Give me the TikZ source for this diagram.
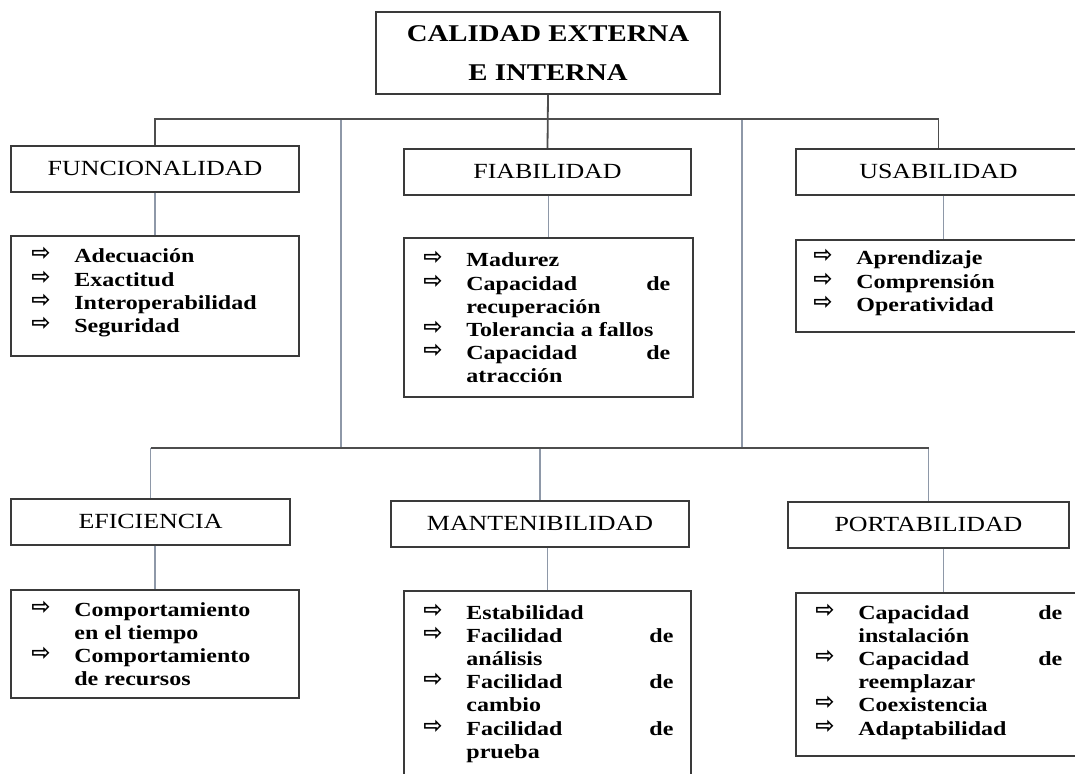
\documentclass[tikz,border=0pt]{standalone}
\usepackage{fontspec}
\setmainfont{Liberation Serif}[FakeStretch=1.2]
\newfontfamily\arrowfont{DejaVu Sans}
\usepackage{array}
\usetikzlibrary{calc}
\definecolor{boxline}{HTML}{3A3A3A}
\definecolor{busline}{HTML}{4D4D4D}
\definecolor{stemline}{HTML}{8E98A8}
\tikzstyle{topbox}=[draw=boxline,line width=1pt,anchor=north west,inner sep=0pt,align=center,font=\fontsize{12}{19.5}\selectfont\bfseries]
\tikzstyle{headbox}=[draw=boxline,line width=1pt,anchor=north west,inner sep=0pt,font=\fontsize{10.8}{13}\selectfont]
\tikzstyle{listbox}=[draw=boxline,line width=1pt,anchor=north west,inner sep=0pt]
\tikzstyle{listtext}=[anchor=base west,inner sep=0pt,font=\fontsize{10}{11.6}\selectfont\bfseries]
\tikzstyle{bus} = [draw=busline,line width=0.9pt]
\tikzstyle{stem} = [draw=stemline,line width=0.9pt]
\newcommand{\ar}{\raisebox{1pt}{\arrowfont\bfseries\fontsize{11.5}{11.5}\selectfont ⇨}}
\newenvironment{itemlist}[1]{\begin{tabular}[t]{@{}p{21.5pt}@{}>{\raggedright\arraybackslash}p{#1}@{}}}{\end{tabular}}

\begin{document}
\begin{tikzpicture}[x=0.5pt,y=-0.5pt]
    \useasboundingbox (0,0) rectangle (1075,774);
    \clip (0,0) rectangle (1075,774);

    % main box
    \node[topbox,minimum width=172pt,minimum height=41pt] (calidad) at (375,11) {CALIDAD EXTERNA\\E INTERNA};

    % characteristics
    \foreach \pos/\name/\w/\txt in {{(10,145)/func/144/FUNCIONALIDAD}, {(403,148)/fiab/143.5/FIABILIDAD},
        {(795,148)/usab/142.5/USABILIDAD}, {(10,498)/efic/139.5/EFICIENCIA},
        {(390,500)/mant/149/MANTENIBILIDAD}, {(787,501)/port/140.5/PORTABILIDAD}}
        \node[headbox,minimum width=\w pt,minimum height=22.8pt] (\name) at \pos {\txt};

    % sub-characteristic boxes
    \foreach \pos/\name/\w/\h in {{(10,235)/funclist/144/60}, {(403,237)/fiablist/144.5/79.5},
        {(795,239)/usablist/147.5/46}, {(10,589)/eficlist/144/54},
        {(403,590)/mantlist/143.5/105}, {(795,592)/portlist/147.5/81.5}}
        \node[listbox,minimum width=\w pt,minimum height=\h pt] (\name) at \pos {};

    \node[listtext] (functext) at ($(funclist.north west)+(21,28)$) {\begin{itemlist}{110pt}
        \ar & Adecuación\\ \ar & Exactitud\\ \ar & Interoperabilidad\\ \ar & Seguridad
        \end{itemlist}};
    \node[listtext] (fiabtext) at ($(fiablist.north west)+(20,30)$) {\begin{itemlist}{102pt}
        \ar & Madurez\\ \ar & Capacidad\hfill de\newline recuperación\\
        \ar & Tolerancia a fallos\\ \ar & Capacidad\hfill de\newline atracción
        \end{itemlist}};
    \node[listtext] (usabtext) at ($(usablist.north west)+(18,26)$) {\begin{itemlist}{110pt}
        \ar & Aprendizaje\\ \ar & Comprensión\\ \ar & Operatividad
        \end{itemlist}};
    \node[listtext] (efictext) at ($(eficlist.north west)+(21,27)$) {\begin{itemlist}{110pt}
        \ar & Comportamiento\newline en el tiempo\\ \ar & Comportamiento\newline de recursos
        \end{itemlist}};
    \node[listtext] (manttext) at ($(mantlist.north west)+(20,29)$) {\begin{itemlist}{103.5pt}
        \ar & Estabilidad\\ \ar & Facilidad\hfill de\newline análisis\\
        \ar & Facilidad\hfill de\newline cambio\\ \ar & Facilidad\hfill de\newline prueba
        \end{itemlist}};
    \node[listtext] (porttext) at ($(portlist.north west)+(20,27)$) {\begin{itemlist}{102pt}
        \ar & Capacidad\hfill de\newline instalación\\ \ar & Capacidad\hfill de\newline reemplazar\\
        \ar & Coexistencia\\ \ar & Adaptabilidad
        \end{itemlist}};

    % connectors
    \coordinate (busa) at (547,119);
    \coordinate (busb) at (547,448);
    \coordinate (lefttop) at (341,119);
    \coordinate (leftbot) at (341,448);
    \coordinate (righttop) at (742,119);
    \coordinate (rightbot) at (742,448);

    \path[stem] (lefttop) -- (leftbot);
    \path[stem] (righttop) -- (rightbot);
    \foreach \head/\list in {func/funclist, fiab/fiablist, usab/usablist, efic/eficlist, mant/mantlist, port/portlist}
        \path[stem] (\list.north |- \head.south) -- (\list.north);
    \foreach \head in {efic, mant, port}
        \path[stem] (busb -| \head.north) -- (\head.north);

    \path[bus] (calidad.south) -- (fiab.north);
    \path[bus] (func.north) |- (busa) -| (usab.north);
    \path[bus] (busb -| efic.north) -- (busb -| port.north);

\end{tikzpicture}
\end{document}
